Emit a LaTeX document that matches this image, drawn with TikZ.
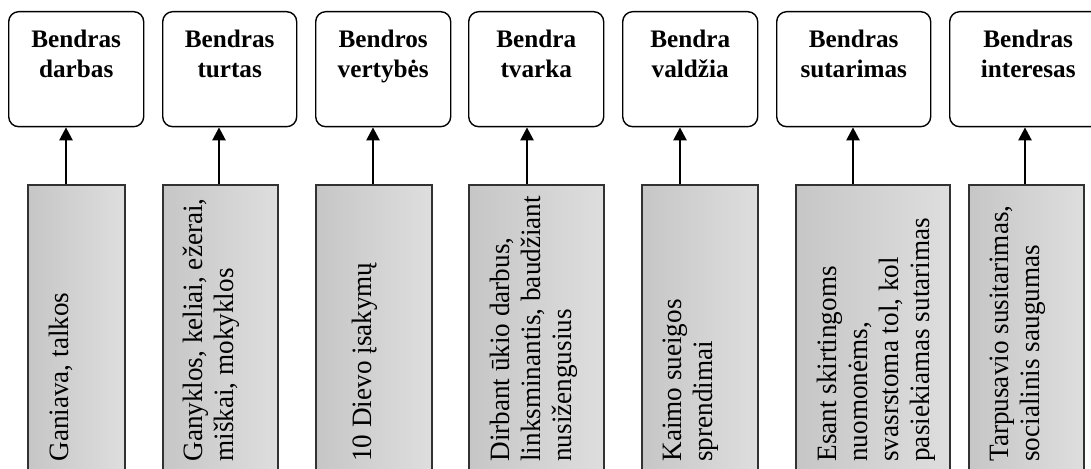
\documentclass[tikz,border=0pt]{standalone}
\usepackage{fontspec}
\setmainfont{Liberation Serif}
\newfontfamily\narrowserif[FakeStretch=0.97]{Liberation Serif}
\usetikzlibrary{arrows.meta}
\definecolor{boxedge}{RGB}{50,50,50}
\definecolor{shadeleft}{RGB}{198,198,198}
\definecolor{shaderight}{RGB}{222,222,222}

\begin{document}
\begin{tikzpicture}[x=0.5pt, y=0.5pt,
    goal/.style={draw, line width=0.7pt, rounded corners=5pt, anchor=north west,
        minimum width=#1, minimum height=57.5pt, inner sep=0pt},
    goaltext/.style={anchor=north, inner sep=0pt, yshift=-9.5pt, align=center,
        font=\bfseries\fontsize{12.6pt}{15pt}\selectfont},
    base/.style={draw=boxedge, line width=0.8pt, anchor=north west,
        left color=shadeleft, right color=shaderight,
        minimum width=#1, minimum height=150pt, inner sep=0pt},
    basetext/.style={rotate=90, anchor=north west, inner sep=0pt, align=left,
        font=\narrowserif\fontsize{14pt}{15.5pt}\selectfont},
    link/.style={line width=1.25pt, -{Triangle[width=6.5pt, length=6.5pt]}}]
    \useasboundingbox (0,0) rectangle (1091,469);
    \clip (0,0) rectangle (1091,469);

    % Upper row: what the village shares.
    \node[goal=67.5pt] (t1) at (8,458) {};
    \node[goal=67pt] (t2) at (162,458) {};
    \node[goal=67.5pt] (t3) at (315,458) {};
    \node[goal=67.5pt] (t4) at (468,458) {};
    \node[goal=67.5pt] (t5) at (622,458) {};
    \node[goal=77pt] (t6) at (776,458) {};
    \node[goal=78.5pt] (t7) at (949,458) {};
    \node[goaltext] (t1text) at (t1.north) {Bendras\\darbas};
    \node[goaltext] (t2text) at (t2.north) {Bendras\\turtas};
    \node[goaltext] (t3text) at (t3.north) {Bendros\\vertybės};
    \node[goaltext] (t4text) at (t4.north) {Bendra\\tvarka};
    \node[goaltext] (t5text) at (t5.north) {Bendra\\valdžia};
    \node[goaltext] (t6text) at (t6.north) {Bendras\\sutarimas};
    \node[goaltext] (t7text) at (t7.north) {Bendras\\interesas};

    % Lower row: how it shows up.
    \node[base=48.5pt] (b1) at (27,285) {};
    \node[base=57.5pt] (b2) at (162,285) {};
    \node[base=58pt] (b3) at (315,285) {};
    \node[base=67.5pt] (b4) at (468,285) {};
    \node[base=58pt] (b5) at (641,285) {};
    \node[base=77pt] (b6) at (795,285) {};
    \node[base=57.5pt] (b7) at (968,285) {};
    \node[basetext] (b1text) at (49,7) {Ganiava, talkos};
    \node[basetext] (b2text) at (183,7) {Ganyklos, keliai, ežerai,\\miškai, mokyklos};
    \node[basetext] (b3text) at (352,7) {10 Dievo įsakymų};
    \node[basetext] (b4text) at (490,7) {Dirbant ūkio darbus,\\linksminantis, baudžiant\\nusižengusius};
    \node[basetext] (b5text) at (663,7) {Kaimo sueigos\\sprendimai};
    \node[basetext] (b6text) at (817,7) {Esant skirtingoms\\nuomonėms,\\svasrstoma tol, kol\\pasiekiamas sutarimas};
    \node[basetext] (b7text) at (990,7) {Tarpusavio susitarimas,\\socialinis saugumas};

    \draw[link] (b1.north -| 66,0) -- (t1.south -| 66,0);
    \draw[link] (b2.north -| 219,0) -- (t2.south -| 219,0);
    \draw[link] (b3.north -| 373,0) -- (t3.south -| 373,0);
    \draw[link] (b4.north -| 527,0) -- (t4.south -| 527,0);
    \draw[link] (b5.north -| 680,0) -- (t5.south -| 680,0);
    \draw[link] (b6.north -| 853,0) -- (t6.south -| 853,0);
    \draw[link] (b7.north -| 1025,0) -- (t7.south -| 1025,0);
\end{tikzpicture}
\end{document}
